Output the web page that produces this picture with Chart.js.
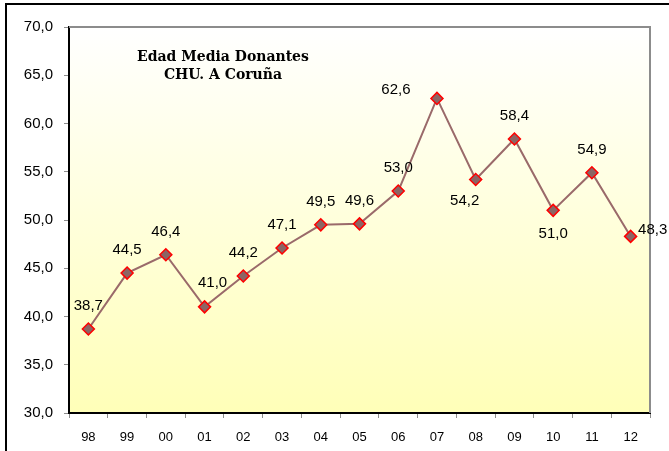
<!DOCTYPE html>
<html>
<head>
<meta charset="utf-8">
<script src="https://cdn.jsdelivr.net/npm/chart.js@4.4.1/dist/chart.umd.min.js"></script>
<style>
  html, body { margin: 0; padding: 0; background: #fff; }
  #wrap { position: relative; width: 669px; height: 451px; overflow: hidden; }
  #frame { position: absolute; left: 5px; top: 3px; width: 700px; height: 500px; border: 2px solid #000; }
  canvas { position: absolute; left: 0; top: 0; }
</style>
</head>
<body>
<div id="wrap">
  <div id="frame"></div>
  <canvas id="myChart" width="669" height="451"></canvas>
</div>
<script>
// years (x axis)
var years = ['98', '99', '00', '01', '02', '03', '04', '05', '06', '07', '08', '09', '10', '11', '12'];
// mean donor age
var edadMedia = [38.7, 44.5, 46.4, 41.0, 44.2, 47.1, 49.5, 49.6, 53.0, 62.6, 54.2, 58.4, 51.0, 54.9, 48.3];
// title lines
var titleLines = ['Edad Media Donantes', 'CHU. A Coruña'];
// where each value label sits relative to its point
var labelPlace = ['above', 'above', 'above', 'aboveRight', 'above', 'above', 'above', 'above', 'above',
                  'aboveLeft', 'belowLeft', 'above', 'below', 'above', 'right'];

function fmt(v) {
  return v.toFixed(1).replace('.', ',');
}

// plot background, top/right border, title and value labels
var extras = {
  id: 'extras',
  beforeDraw: function (chart) {
    var a = chart.chartArea, ctx = chart.ctx;
    var g = ctx.createLinearGradient(0, a.top, 0, a.bottom);
    g.addColorStop(0, '#ffffff');
    g.addColorStop(1, '#ffffb8');
    ctx.save();
    ctx.fillStyle = g;
    ctx.fillRect(a.left, a.top, a.right - a.left, a.bottom - a.top);
    ctx.restore();
  },
  afterDraw: function (chart) {
    var a = chart.chartArea, ctx = chart.ctx;
    ctx.save();
    ctx.strokeStyle = '#8c8c8c';
    ctx.lineWidth = 2;
    ctx.beginPath();
    ctx.moveTo(a.left, a.top);
    ctx.lineTo(a.right, a.top);
    ctx.lineTo(a.right, a.bottom);
    ctx.stroke();

    // title inside the plot
    ctx.fillStyle = '#000';
    ctx.font = 'bold 14px "DejaVu Serif"';
    ctx.textAlign = 'center';
    ctx.textBaseline = 'middle';
    ctx.fillText(titleLines[0], 223, 57);
    ctx.fillText(titleLines[1], 223, 75);

    // value labels
    ctx.font = '15px "Liberation Sans"';
    var pts = chart.getDatasetMeta(0).data;
    pts.forEach(function (p, i) {
      var dx = 0, dy = -23;
      switch (labelPlace[i]) {
        case 'aboveRight': dx = 8; dy = -24; break;
        case 'aboveLeft': dx = -41; dy = -9; break;
        case 'belowLeft': dx = -11; dy = 21; break;
        case 'below': dx = 0; dy = 24; break;
        case 'right': dx = 22; dy = -7; break;
      }
      ctx.fillText(fmt(edadMedia[i]), p.x + dx, p.y + dy);
    });
    ctx.restore();
  }
};

var myChart = new Chart(document.getElementById('myChart'), {
  type: 'line',
  data: {
    labels: years,
    datasets: [{
      data: edadMedia,
      borderColor: '#9a6a6a',
      borderWidth: 2,
      pointStyle: 'rectRot',
      pointRadius: 6,
      pointBackgroundColor: '#8c6464',
      pointBorderColor: '#ff0000',
      pointBorderWidth: 1.5,
      tension: 0
    }]
  },
  options: {
    responsive: false,
    animation: false,
    layout: { padding: { left: 0, top: 27, right: 19, bottom: 0 } },
    plugins: {
      legend: { display: false },
      tooltip: { enabled: false }
    },
    scales: {
      x: {
        offset: true,
        grid: { offset: true, drawOnChartArea: false, drawTicks: true, tickLength: 5, color: '#8c8c8c' },
        border: { color: '#000', width: 2 },
        ticks: { color: '#000', font: { family: 'Liberation Sans', size: 13 }, padding: 12, maxRotation: 0 },
        afterFit: function (s) { s.height = 38; }
      },
      y: {
        min: 30,
        max: 70,
        grid: { drawOnChartArea: false, drawTicks: true, tickLength: 5, color: '#8c8c8c' },
        border: { color: '#000', width: 2 },
        ticks: {
          stepSize: 5,
          color: '#000',
          padding: 11,
          font: { family: 'Liberation Sans', size: 15 },
          callback: function (v) { return fmt(v); }
        },
        afterFit: function (s) { s.width = 69; }
      }
    }
  },
  plugins: [extras]
});
</script>
</body>
</html>
